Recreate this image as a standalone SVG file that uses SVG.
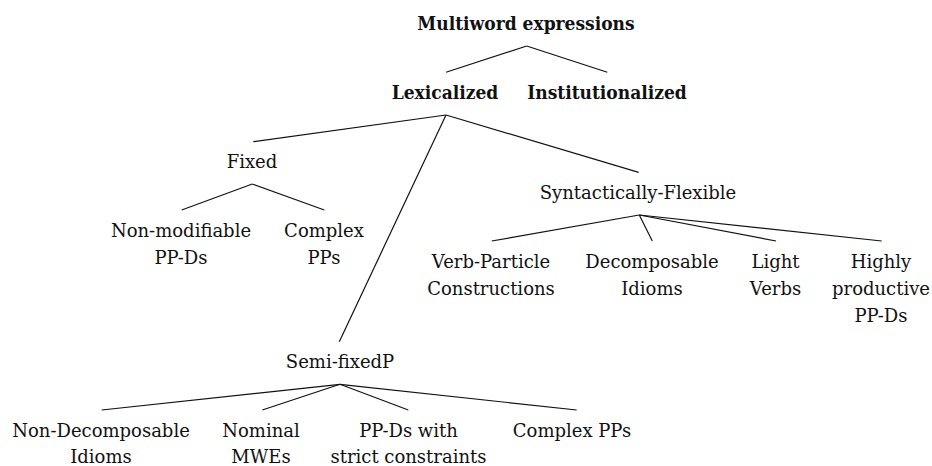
<svg xmlns="http://www.w3.org/2000/svg" width="932" height="466" viewBox="0 0 932 466">
<style>
text{font-family:"DejaVu Serif",serif;font-size:18px;fill:#111;text-anchor:middle}
.b{font-family:"DejaVu Serif Condensed","DejaVu Serif",serif;font-stretch:condensed;font-weight:bold;font-size:19px}
#connectors line{stroke:#111;stroke-width:1.2}
</style>
<rect width="932" height="466" fill="#fff"/>
<g id="connectors">
<line x1="526.7" y1="46" x2="446" y2="72.3"/>
<line x1="526.7" y1="46" x2="607.3" y2="72.3"/>
<line x1="446" y1="115" x2="253.3" y2="141.7"/>
<line x1="446" y1="115" x2="638.7" y2="172.3"/>
<line x1="446" y1="115" x2="339.3" y2="341.7"/>
<line x1="252.3" y1="184" x2="181.7" y2="210"/>
<line x1="252.3" y1="184" x2="324.3" y2="210"/>
<line x1="639.3" y1="215" x2="491.7" y2="241"/>
<line x1="639.3" y1="215" x2="652.3" y2="241"/>
<line x1="639.3" y1="215" x2="776" y2="241"/>
<line x1="639.3" y1="215" x2="881.7" y2="241"/>
<line x1="340" y1="384.3" x2="101.7" y2="410"/>
<line x1="340" y1="384.3" x2="262.3" y2="410"/>
<line x1="340" y1="384.3" x2="408.3" y2="410"/>
<line x1="340" y1="384.3" x2="576.7" y2="410"/>
</g>
<g id="mwe"><text class="b" x="526" y="30">Multiword expressions</text></g>
<g id="lexicalized"><text class="b" x="445" y="99.3">Lexicalized</text></g>
<g id="institutionalized"><text class="b" x="607" y="99.3">Institutionalized</text></g>
<g id="fixed"><text x="252" y="168">Fixed</text></g>
<g id="nonmod"><text x="181" y="236.7">Non-modifiable</text><text x="181" y="264">PP-Ds</text></g>
<g id="complex1"><text x="324" y="236.7">Complex</text><text x="324" y="264">PPs</text></g>
<g id="synflex"><text x="638" y="199">Syntactically-Flexible</text></g>
<g id="vpc"><text x="491" y="268.3">Verb-Particle</text><text x="491" y="294.7">Constructions</text></g>
<g id="decomp"><text x="652" y="268.3">Decomposable</text><text x="652" y="294.7">Idioms</text></g>
<g id="light"><text x="775.5" y="268.3">Light</text><text x="775.5" y="294.7">Verbs</text></g>
<g id="highly"><text x="881" y="268.3">Highly</text><text x="881" y="294.7">productive</text><text x="881" y="321.7">PP-Ds</text></g>
<g id="semifixed"><text x="340" y="368">Semi-fixedP</text></g>
<g id="nondecomp"><text x="101" y="437">Non-Decomposable</text><text x="101" y="462.5">Idioms</text></g>
<g id="nominal"><text x="261" y="437">Nominal</text><text x="261" y="462.5">MWEs</text></g>
<g id="ppds"><text x="408.5" y="437">PP-Ds with</text><text x="408.5" y="462.5">strict constraints</text></g>
<g id="complex2"><text x="572" y="437">Complex PPs</text></g>
</svg>
